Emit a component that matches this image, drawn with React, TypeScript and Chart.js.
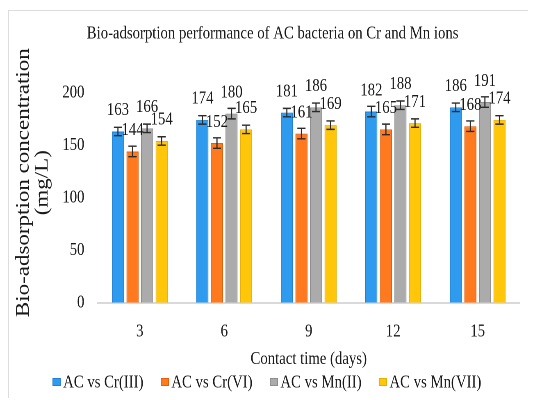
import React, { useEffect, useRef } from "react";
import { Chart, registerables } from "chart.js";

Chart.register(...registerables);

const categories = ["3", "6", "9", "12", "15"];
const seriesNames = ["AC vs Cr(III)", "AC vs Cr(VI)", "AC vs Mn(II)", "AC vs Mn(VII)"];
const crIII = [163, 174, 181, 182, 186];
const crVI = [144, 152, 161, 165, 168];
const mnII = [166, 180, 186, 188, 191];
const mnVII = [154, 165, 169, 171, 174];
const crIIIErr = [4, 4, 4, 5, 4];
const crVIErr = [5, 5, 5, 5, 5];
const mnIIErr = [4, 5, 4, 4, 5];
const mnVIIErr = [4, 4, 4, 4, 4];
const yTicks = [0, 50, 100, 150, 200];

const fills = ["#2F9BEF", "#FF7A1F", "#ABABAB", "#FFC60A"];
const borders = ["#1E80D6", "#E2600C", "#8E8E8E", "#E6AE00"];
const FONT = "'Liberation Serif', 'Times New Roman', serif";
const SX = 0.82;
const W = 643;
const H = 389;

const errPlugin = {
  id: "errLabels",
  afterDatasetsDraw(chart: any) {
    const ctx = chart.ctx;
    const y = chart.scales.y;
    ctx.save();
    chart.data.datasets.forEach((ds: any, i: number) => {
      const meta = chart.getDatasetMeta(i);
      meta.data.forEach((el: any, j: number) => {
        const v = ds.data[j];
        const e = ds.errors[j];
        const yt = y.getPixelForValue(v + e);
        const yb = y.getPixelForValue(v - e);
        ctx.strokeStyle = "#2b2b2b";
        ctx.lineWidth = 1.4;
        ctx.beginPath();
        ctx.moveTo(el.x, yt);
        ctx.lineTo(el.x, yb);
        ctx.moveTo(el.x - 5, yt);
        ctx.lineTo(el.x + 5, yt);
        ctx.moveTo(el.x - 5, yb);
        ctx.lineTo(el.x + 5, yb);
        ctx.stroke();
        ctx.fillStyle = "#1a1a1a";
        ctx.font = `18px ${FONT}`;
        ctx.textAlign = "center";
        ctx.textBaseline = "middle";
        ctx.fillText(String(v), el.x, el.y - 21);
      });
    });
    ctx.restore();
  },
  afterDraw(chart: any) {
    const ctx = chart.ctx;
    const a = chart.chartArea;
    const cy = (a.top + a.bottom) / 2 - 15;
    const lines: [string, number][] = [
      ["Bio-adsorption concentration", a.left - 90],
      ["(mg/L)", a.left - 67],
    ];
    lines.forEach(([t, x]) => {
      ctx.save();
      ctx.fillStyle = "#1a1a1a";
      ctx.font = `23px ${FONT}`;
      ctx.textAlign = "center";
      ctx.textBaseline = "middle";
      ctx.translate(x, cy);
      ctx.rotate(-Math.PI / 2);
      ctx.fillText(t, 0, 0);
      ctx.restore();
    });

    // legend
    ctx.save();
    ctx.font = `18px ${FONT}`;
    ctx.textBaseline = "middle";
    ctx.textAlign = "left";
    const boxW = 10;
    const boxH = 8;
    const gapBox = 3;
    const gapItem = 21;
    const items = chart.data.datasets.map((ds: any) => ({
      text: ds.label,
      fill: ds.backgroundColor,
      stroke: ds.borderColor,
      w: boxW + gapBox + ctx.measureText(ds.label).width,
    }));
    const total = items.reduce((s: number, it: any) => s + it.w, 0) + gapItem * (items.length - 1);
    let x = chart.width / 2 - 7 - total / 2;
    const ly = chart.scales.x.bottom + 12;
    items.forEach((it: any) => {
      ctx.fillStyle = it.fill;
      ctx.strokeStyle = it.stroke;
      ctx.lineWidth = 1;
      ctx.fillRect(x, ly - boxH / 2, boxW, boxH);
      ctx.strokeRect(x + 0.5, ly - boxH / 2 + 0.5, boxW - 1, boxH - 1);
      ctx.fillStyle = "#1a1a1a";
      ctx.fillText(it.text, x + boxW + gapBox, ly + 1);
      x += it.w + gapItem;
    });
    ctx.restore();
  },
};

export default function App() {
  const ref = useRef<HTMLCanvasElement>(null);
  useEffect(() => {
    document.body.style.overflow = "hidden";
    const values = [crIII, crVI, mnII, mnVII];
    const errs = [crIIIErr, crVIErr, mnIIErr, mnVIIErr];
    const chart = new Chart(ref.current as HTMLCanvasElement, {
      type: "bar",
      data: {
        labels: categories,
        datasets: seriesNames.map((n, i) => ({
          label: n,
          data: values[i],
          errors: errs[i],
          backgroundColor: fills[i],
          borderColor: borders[i],
          borderWidth: 1,
          categoryPercentage: 0.69,
          barPercentage: 0.83,
        })) as any,
      },
      options: {
        responsive: false,
        animation: false,
        devicePixelRatio: 2,
        layout: { padding: { left: 0, right: 0, bottom: 30, top: 0 } },
        plugins: {
          tooltip: { enabled: false },
          title: {
            display: true,
            text: "Bio-adsorption performance of AC bacteria on Cr and Mn ions",
            color: "#1a1a1a",
            font: { family: FONT, size: 18, weight: "normal" },
            padding: { top: 12, bottom: 48 },
          },
          legend: { display: false },
        },
        scales: {
          x: {
            grid: { display: false, drawTicks: false },
            border: { display: true, color: "#d9d9d9", width: 2 },
            ticks: { color: "#1a1a1a", font: { family: FONT, size: 18 }, padding: 18 },
            title: {
              display: true,
              text: "Contact time (days)",
              color: "#1a1a1a",
              font: { family: FONT, size: 18 },
              padding: { top: -12, bottom: 0 },
            },
          },
          y: {
            min: 0,
            max: 200,
            afterBuildTicks: (s: any) => {
              s.ticks = yTicks.map((v) => ({ value: v }));
            },
            afterFit: (s: any) => {
              s.width = 108;
            },
            grid: { display: false, drawTicks: false },
            border: { display: false },
            ticks: { color: "#1a1a1a", font: { family: FONT, size: 18 }, padding: 16 },
          },
          yRight: {
            position: "right",
            display: true,
            grid: { display: false, drawTicks: false },
            border: { display: false },
            ticks: { display: false },
            afterFit: (s: any) => {
              s.width = 20;
            },
          },
        },
      },
      plugins: [errPlugin],
    });
    return () => chart.destroy();
  }, []);
  return (
    <div
      style={{
        position: "relative",
        top: 2,
        width: 527,
        height: H,
        borderTop: "1px solid #dcdcdc",
        borderLeft: "1px solid #dcdcdc",
        overflow: "hidden",
      }}
    >
      <div style={{ width: W, height: H, transform: `scaleX(${SX})`, transformOrigin: "0 0" }}>
        <canvas ref={ref} width={W} height={H} style={{ width: W, height: H }} />
      </div>
    </div>
  );
}
